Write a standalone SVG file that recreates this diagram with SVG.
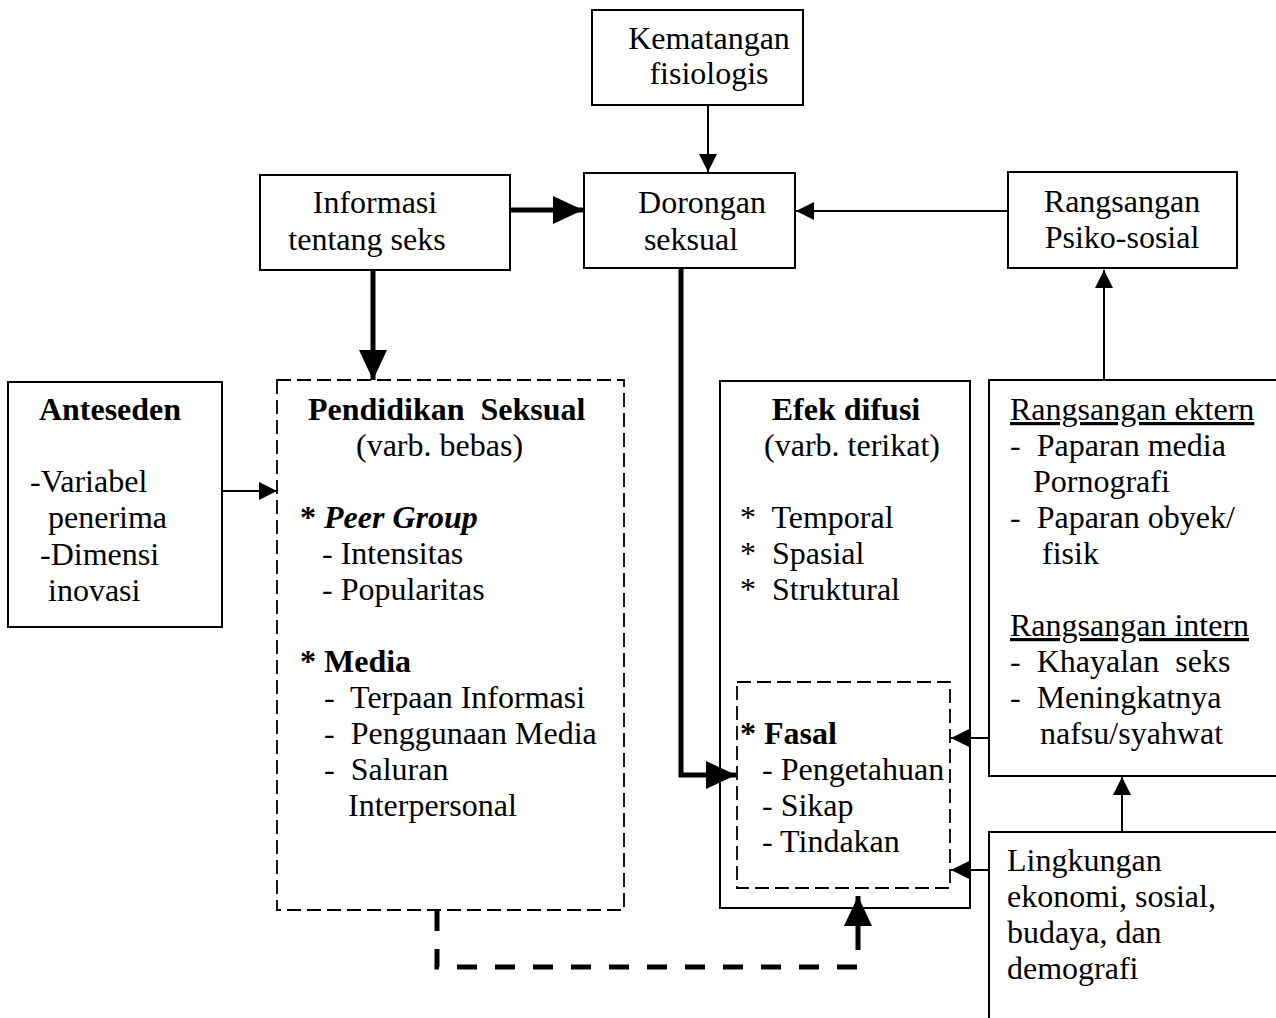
<svg xmlns="http://www.w3.org/2000/svg" width="1276" height="1018" viewBox="0 0 1276 1018">
<style>
text{font-family:"Liberation Serif","Times New Roman",serif;font-size:32px;fill:#000;white-space:pre}
.b{font-weight:bold}
.bi{font-weight:bold;font-style:italic}
.u{text-decoration:underline}
.c{text-anchor:middle}
.box{fill:#fff;stroke:#000;stroke-width:2}
.dbox{fill:none;stroke:#000;stroke-width:1.8;stroke-dasharray:14 6}
.thin{fill:none;stroke:#000;stroke-width:2}
.thick{fill:none;stroke:#000;stroke-width:5}
.dthick{fill:none;stroke:#000;stroke-width:5;stroke-dasharray:20 18}
</style>
<defs>
<marker id="ah" markerUnits="userSpaceOnUse" markerWidth="20" markerHeight="20" refX="18" refY="9" orient="auto"><path d="M0,0 L18,9 L0,18 z" fill="#000"/></marker>
<marker id="ahT" markerUnits="userSpaceOnUse" markerWidth="34" markerHeight="32" refX="30" refY="14" orient="auto"><path d="M0,0 L30,14 L0,28 z" fill="#000"/></marker>
</defs>
<rect width="1276" height="1018" fill="#fff"/>

<g id="kematangan">
<rect class="box" x="592" y="10" width="211" height="95"/>
<text class="c" x="709" y="49">Kematangan</text>
<text class="c" x="709" y="84">fisiologis</text>
</g>

<g id="informasi">
<rect class="box" x="260" y="175" width="250" height="95"/>
<text class="c" x="375" y="213">Informasi</text>
<text class="c" x="367" y="250">tentang seks</text>
</g>

<g id="dorongan">
<rect class="box" x="584" y="173" width="211" height="95"/>
<text class="c" x="702" y="213">Dorongan</text>
<text class="c" x="691" y="250">seksual</text>
</g>

<g id="rangsangan-psiko">
<rect class="box" x="1008" y="172" width="229" height="96"/>
<text class="c" x="1122" y="212">Rangsangan</text>
<text class="c" x="1122" y="248">Psiko-sosial</text>
</g>

<g id="anteseden">
<rect class="box" x="8" y="382" width="214" height="245"/>
<text class="b c" x="110" y="420">Anteseden</text>
<text x="30" y="492">-Variabel</text>
<text x="48" y="528">penerima</text>
<text x="40" y="565">-Dimensi</text>
<text x="48" y="601">inovasi</text>
</g>

<g id="pendidikan">
<rect class="dbox" x="277" y="380" width="347" height="530"/>
<text class="b" x="308" y="420">Pendidikan  Seksual</text>
<text x="356" y="456">(varb. bebas)</text>
<text x="300" y="528"><tspan class="b">* </tspan><tspan class="bi">Peer Group</tspan></text>
<text x="322" y="564">- Intensitas</text>
<text x="322" y="600">- Popularitas</text>
<text class="b" x="300" y="672">* Media</text>
<text x="324" y="708">-  Terpaan Informasi</text>
<text x="324" y="744">-  Penggunaan Media</text>
<text x="324" y="780">-  Saluran</text>
<text x="348" y="816">Interpersonal</text>
</g>

<g id="efek">
<rect class="box" x="720" y="381" width="250" height="527"/>
<text class="b c" x="846" y="420">Efek difusi</text>
<text class="c" x="852" y="456">(varb. terikat)</text>
<text x="740" y="528">*  Temporal</text>
<text x="740" y="564">*  Spasial</text>
<text x="740" y="600">*  Struktural</text>
</g>

<g id="fasal">
<rect class="dbox" x="737" y="682" width="213" height="206"/>
<text class="b" x="740" y="744">* Fasal</text>
<text x="762" y="780">- Pengetahuan</text>
<text x="762" y="816">- Sikap</text>
<text x="762" y="852">- Tindakan</text>
</g>

<g id="rangsangan-box">
<rect class="box" x="989" y="380" width="300" height="396"/>
<text class="u" x="1010" y="420">Rangsangan ektern</text>
<text x="1010" y="456">-  Paparan media</text>
<text x="1033" y="492">Pornografi</text>
<text x="1010" y="528">-  Paparan obyek/</text>
<text x="1042" y="564">fisik</text>
<text class="u" x="1010" y="636">Rangsangan intern</text>
<text x="1010" y="672">-  Khayalan  seks</text>
<text x="1010" y="708">-  Meningkatnya</text>
<text x="1040" y="744">nafsu/syahwat</text>
</g>

<g id="lingkungan">
<rect class="box" x="989" y="832" width="300" height="200"/>
<text x="1007" y="871">Lingkungan</text>
<text x="1007" y="907">ekonomi, sosial,</text>
<text x="1007" y="943">budaya, dan</text>
<text x="1007" y="979">demografi</text>
</g>

<g id="connectors">
<line class="thin" x1="708" y1="105" x2="708" y2="172" marker-end="url(#ah)"/>
<line class="thick" x1="510" y1="210" x2="583" y2="210" marker-end="url(#ahT)"/>
<line class="thin" x1="1008" y1="211" x2="796" y2="211" marker-end="url(#ah)"/>
<line class="thick" x1="373" y1="270" x2="373" y2="380" marker-end="url(#ahT)"/>
<line class="thin" x1="1104" y1="380" x2="1104" y2="270" marker-end="url(#ah)"/>
<line class="thin" x1="222" y1="491" x2="277" y2="491" marker-end="url(#ah)"/>
<path class="thick" d="M681,268 V775 H736" marker-end="url(#ahT)"/>
<line class="thin" x1="989" y1="738" x2="951" y2="738" marker-end="url(#ah)"/>
<line class="thin" x1="989" y1="870" x2="951" y2="870" marker-end="url(#ah)"/>
<line class="thin" x1="1122" y1="832" x2="1122" y2="777" marker-end="url(#ah)"/>
<path class="dthick" d="M437,911 V967 H858 V925"/>
<line class="thick" x1="858" y1="930" x2="858" y2="896" marker-end="url(#ahT)"/>
</g>
</svg>
